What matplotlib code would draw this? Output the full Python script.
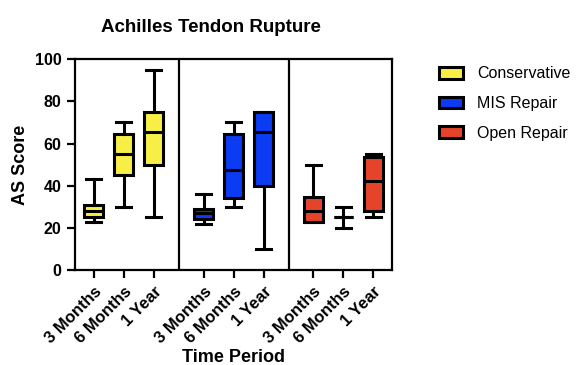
import matplotlib.pyplot as plt
from matplotlib.patches import Patch

plt.rcParams['font.family'] = ['Liberation Sans', 'DejaVu Sans']

groups = ['Conservative', 'MIS Repair', 'Open Repair']
periods = ['3 Months', '6 Months', '1 Year']
colors = ['#F7EF45', '#0B3BF2', '#E6432B']

# five-number summaries (min, q1, median, q3, max)
conservative = [(23, 25, 28, 31, 43), (30, 45, 55, 64.5, 70), (25, 50, 65.5, 75, 95)]
mis_repair = [(22, 24, 27, 29, 36), (30, 34, 47.5, 64.5, 70), (10, 40, 65.5, 75, 75)]
open_repair = [(23, 23, 28, 34.5, 50), (20, 25, 25, 25, 30), (25, 28, 42, 53.5, 55)]
all_stats = [conservative, mis_repair, open_repair]

positions = [1, 2, 3, 4.67, 5.67, 6.67, 8.33, 9.33, 10.33]

fig = plt.figure(figsize=(5.76, 3.65), dpi=100)
ax = fig.add_axes([0.130, 0.260, 0.551, 0.578])

lw = 2.2
bxp_stats = []
box_colors = []
for g, stats in enumerate(all_stats):
    for p, (lo, q1, med, q3, hi) in enumerate(stats):
        bxp_stats.append({'whislo': lo, 'q1': q1, 'med': med, 'q3': q3,
                          'whishi': hi, 'fliers': []})
        box_colors.append(colors[g])

bp = ax.bxp(bxp_stats, positions=positions, widths=0.62, patch_artist=True,
            showfliers=False,
            boxprops=dict(linewidth=lw, edgecolor='black'),
            medianprops=dict(color='black', linewidth=lw),
            whiskerprops=dict(color='black', linewidth=lw),
            capprops=dict(color='black', linewidth=lw),
            capwidths=0.5)
for box, c in zip(bp['boxes'], box_colors):
    box.set_facecolor(c)

ax.axvline(3.83, color='black', linewidth=1.6)
ax.axvline(7.5, color='black', linewidth=1.6)

ax.set_xlim(0.37, 10.96)
ax.set_ylim(0, 100)
ax.set_yticks([0, 20, 40, 60, 80, 100])
ax.set_xticks(positions)
ax.set_xticklabels(periods * 3, rotation=45, ha='right', rotation_mode='anchor',
                   fontsize=12, fontweight='bold')
for lab in ax.get_yticklabels():
    lab.set_fontweight('bold')
    lab.set_fontsize(11.5)
ax.tick_params(axis='both', width=1.6, length=6, direction='out')
ax.tick_params(axis='x', pad=4)
for s in ax.spines.values():
    s.set_linewidth(1.6)

ax.set_ylabel('AS Score', fontsize=13, fontweight='bold', labelpad=4)
ax.set_xlabel('Time Period', fontsize=13, fontweight='bold', labelpad=2)
fig.text(0.366, 0.925, 'Achilles Tendon Rupture', ha='center', va='center',
         fontsize=13.5, fontweight='bold')

handles = [Patch(facecolor=c, edgecolor='black', linewidth=2.2) for c in colors]
fig.legend(handles, groups, loc='upper left', bbox_to_anchor=(0.762, 0.818),
           frameon=False, fontsize=11.5, handlelength=1.5, handleheight=0.75,
           labelspacing=0.92, handletextpad=0.9, borderpad=0, borderaxespad=0)

fig.savefig('out.png', dpi=100)
